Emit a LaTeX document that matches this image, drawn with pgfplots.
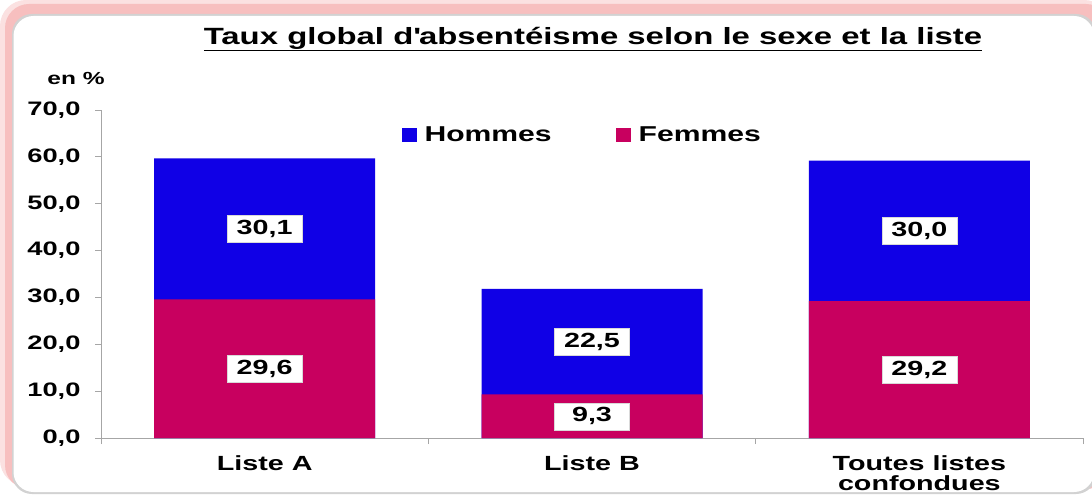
\documentclass[border=0pt]{standalone}
\usepackage{pgfplots}
\pgfplotsset{compat=1.18}
\usepackage{fontspec}
\setmainfont{Liberation Sans}[FakeStretch=1.4]
\definecolor{hblue}{RGB}{16,0,230}
\definecolor{fmag}{RGB}{200,0,95}
\definecolor{glow}{RGB}{244,170,170}

\newcommand{\fs}[1]{\bfseries\fontsize{#1}{#1}\selectfont}

\begin{document}
\begin{tikzpicture}[x=1pt,y=1pt]
\useasboundingbox (0,0) rectangle (1092,496);
% frame with pink glow on top and left
\fill[white] (0,0) rectangle (1092,496);
\fill[glow!35, rounded corners=26pt] (0,10) rectangle (1110,496);
\fill[glow!75, rounded corners=24pt] (5,7) rectangle (1110,492);
\fill[gray!35, rounded corners=20pt] (12,2) rectangle (1096,482);
\fill[white, rounded corners=20pt] (13.5,4) rectangle (1094,480);

\node[font=\fs{23.5}] at (593,457) {\underline{Taux global d\textquotesingle absentéisme selon le sexe et la liste}};
\node[font=\fs{17.5}] at (76,418) {en \%};

\begin{axis}[
	at={(101pt,58pt)}, anchor=south west,
	scale only axis, width=982pt, height=328pt,
	xmin=-0.5, xmax=2.5, ymin=0, ymax=70,
	axis lines=left, axis line style={-, gray!70, line width=0.8pt},
	tick align=outside, major tick length=6pt,
	tick style={gray!70, line width=0.8pt},
	ytick={0,10,...,70},
	/pgf/number format/assume math mode=true,
	yticklabel style={font=\fs{19.5}, xshift=-11pt, /pgf/number format/.cd, fixed, fixed zerofill, precision=1, use comma},
	xtick={-0.5,0.5,1.5,2.5}, xticklabels={},
	extra x ticks={0,1,2},
	extra x tick labels={Liste A, Liste B, {Toutes listes\\confondues}},
	extra x tick style={major tick length=0pt, xticklabel style={font=\fs{20.5}, align=center, yshift=-14pt}},
	legend style={at={(0.490,0.924)}, anchor=center, draw=none, fill=none, font=\fs{21.5},
		legend columns=2, /tikz/every even column/.append style={column sep=62pt}},
	legend image code/.code={\fill[#1] (0pt,-7pt) rectangle (15pt,7pt); \path (21pt,0pt);},
	nodes near coords style={anchor=center, fill=white, draw=gray!30, font=\fs{20.5},
		minimum width=75pt, minimum height=27pt, inner sep=0pt},
]
\addplot[ybar, bar width=221pt, bar shift=0pt, fill=hblue, draw=none] coordinates {(0,59.7) (1,31.8) (2,59.2)};
\addlegendentry{Hommes}
\addplot[ybar, bar width=221pt, bar shift=0pt, fill=fmag, draw=none] coordinates {(0,29.6) (1,9.3) (2,29.2)};
\addlegendentry{Femmes}
\addplot[draw=none, mark=none, forget plot, nodes near coords, point meta=explicit symbolic]
	coordinates {(0,44.65)[30{,}1] (1,20.55)[22{,}5] (2,44.2)[30{,}0]};
\addplot[draw=none, mark=none, forget plot, nodes near coords, point meta=explicit symbolic]
	coordinates {(0,14.8)[29{,}6] (1,4.65)[9{,}3] (2,14.6)[29{,}2]};
\end{axis}
\end{tikzpicture}
\end{document}
